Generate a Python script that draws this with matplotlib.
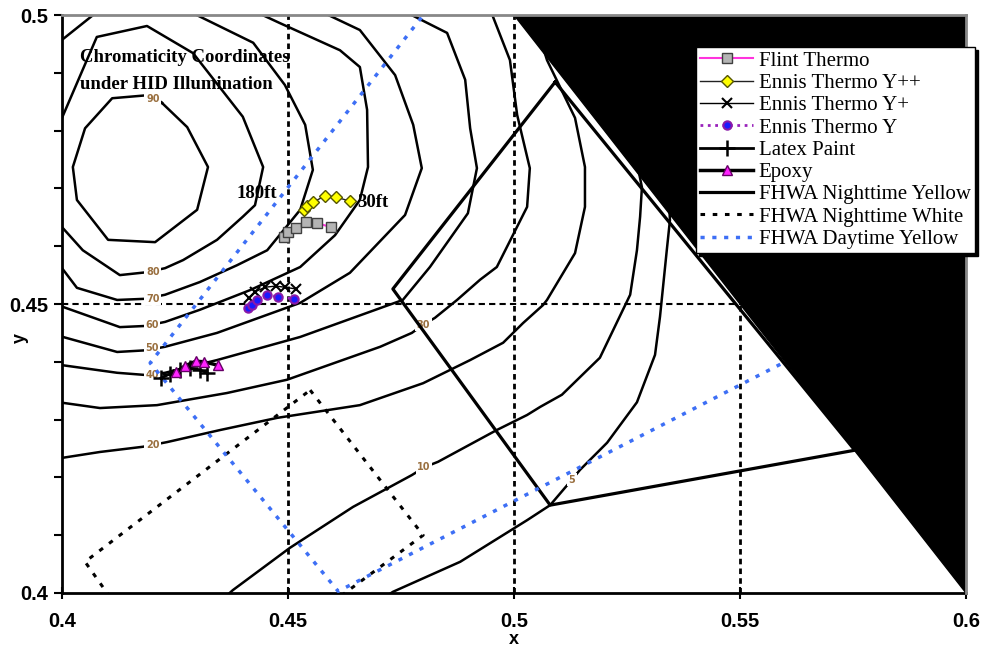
import matplotlib
matplotlib.use("Agg")
import matplotlib.pyplot as plt
import numpy as np

# ---- measured series (CIE x, y) ----
flint_x = [0.4491, 0.4500, 0.4518, 0.4540, 0.4564, 0.4595]
flint_y = [0.4616, 0.4625, 0.4631, 0.4642, 0.4640, 0.4633]

ennis_ypp_x = [0.4535, 0.4542, 0.4555, 0.4582, 0.4606, 0.4637]
ennis_ypp_y = [0.4663, 0.4670, 0.4676, 0.4687, 0.4685, 0.4678]

ennis_yp_x = [0.4414, 0.4427, 0.4449, 0.4473, 0.4493, 0.4518]
ennis_yp_y = [0.4510, 0.4521, 0.4529, 0.4531, 0.4529, 0.4526]

ennis_y_x = [0.4412, 0.4420, 0.4431, 0.4454, 0.4478, 0.4513]
ennis_y_y = [0.4493, 0.4498, 0.4507, 0.4516, 0.4512, 0.4509]

latex_x = [0.4219, 0.4239, 0.4261, 0.4283, 0.4305, 0.4321]
latex_y = [0.4372, 0.4379, 0.4386, 0.4389, 0.4386, 0.4381]

epoxy_x = [0.4252, 0.4272, 0.4296, 0.4314, 0.4345]
epoxy_y = [0.4382, 0.4393, 0.4401, 0.4400, 0.4394]

# ---- FHWA colour boxes ----
night_yellow = [(0.5091, 0.4884), (0.4732, 0.4526), (0.5080, 0.4152), (0.5754, 0.4247), (0.5091, 0.4884)]
night_white = [(0.4549, 0.4351), (0.4799, 0.4100), (0.4280, 0.3800), (0.4051, 0.4054), (0.4549, 0.4351)]
day_yellow = [(0.4900, 0.5100), (0.4195, 0.4398), (0.4611, 0.4003), (0.5600, 0.4400)]
locus = [(0.5, 0.5), (0.6, 0.4), (0.6, 0.5)]

# ---- iso-luminance contours ----
contour_90 = [(0.4221, 0.4848), (0.4277, 0.4806), (0.4323, 0.4737), (0.4299, 0.4663), (0.4206, 0.4607),
              (0.4102, 0.4611), (0.4033, 0.4680), (0.4024, 0.4737), (0.4051, 0.4804), (0.4111, 0.4856),
              (0.4201, 0.4862), (0.4221, 0.4848)]
contour_80 = [(0.4000, 0.4822), (0.4077, 0.4962), (0.4188, 0.4981), (0.4290, 0.4934), (0.4400, 0.4824),
              (0.4445, 0.4737), (0.4427, 0.4671), (0.4400, 0.4651), (0.4343, 0.4611), (0.4268, 0.4576),
              (0.4228, 0.4562), (0.4188, 0.4555), (0.4128, 0.4550), (0.4046, 0.4593), (0.4000, 0.4633)]
contour_70a = [(0.4000, 0.4957), (0.4069, 0.5000), (0.4084, 0.5010)]
contour_70 = [(0.4272, 0.5010), (0.4290, 0.5003), (0.4423, 0.4952), (0.4493, 0.4879), (0.4538, 0.4810),
              (0.4555, 0.4732), (0.4527, 0.4663), (0.4454, 0.4593), (0.4387, 0.4567), (0.4305, 0.4538),
              (0.4228, 0.4516), (0.4184, 0.4509), (0.4122, 0.4507), (0.4033, 0.4528), (0.4000, 0.4562)]
contour_60 = [(0.4416, 0.5010), (0.4482, 0.4986), (0.4615, 0.4939), (0.4659, 0.4910), (0.4675, 0.4836),
              (0.4677, 0.4737), (0.4659, 0.4680), (0.4604, 0.4619), (0.4527, 0.4564), (0.4416, 0.4524),
              (0.4305, 0.4490), (0.4228, 0.4469), (0.4184, 0.4462), (0.4128, 0.4460), (0.4002, 0.4495)]
contour_50 = [(0.4562, 0.5010), (0.4659, 0.4974), (0.4737, 0.4896), (0.4777, 0.4810),
              (0.4796, 0.4735), (0.4759, 0.4654), (0.4637, 0.4554), (0.4527, 0.4502), (0.4343, 0.4450),
              (0.4228, 0.4426), (0.4188, 0.4420), (0.4122, 0.4417), (0.4002, 0.4443)]
contour_40 = [(0.4748, 0.5010), (0.4852, 0.4969), (0.4892, 0.4888), (0.4903, 0.4804), (0.4918, 0.4735),
              (0.4898, 0.4657), (0.4814, 0.4564), (0.4754, 0.4507), (0.4527, 0.4443), (0.4343, 0.4403),
              (0.4228, 0.4381), (0.4188, 0.4377), (0.4122, 0.4381), (0.4002, 0.4394)]
contour_30 = [(0.4947, 0.5010), (0.4991, 0.4922), (0.5007, 0.4827), (0.5035, 0.4735),
              (0.5029, 0.4668), (0.4962, 0.4564), (0.4925, 0.4542), (0.4874, 0.4507), (0.4825, 0.4476),
              (0.4799, 0.4464), (0.4774, 0.4450), (0.4704, 0.4426), (0.4498, 0.4369), (0.4365, 0.4346),
              (0.4210, 0.4325), (0.4084, 0.4320), (0.4002, 0.4329)]
contour_20 = [(0.5035, 0.5017), (0.5073, 0.4922), (0.5135, 0.4822), (0.5157, 0.4737), (0.5157, 0.4668),
              (0.5135, 0.4588), (0.5073, 0.4507), (0.5064, 0.4498), (0.5020, 0.4467), (0.4976, 0.4433),
              (0.4903, 0.4403), (0.4799, 0.4363), (0.4659, 0.4325), (0.4476, 0.4303), (0.4350, 0.4282),
              (0.4232, 0.4261), (0.4179, 0.4253), (0.4084, 0.4244), (0.4002, 0.4234)]
contour_10 = [(0.5135, 0.5017), (0.5235, 0.4888), (0.5283, 0.4702), (0.5279, 0.4651), (0.5272, 0.4593),
              (0.5257, 0.4516), (0.5190, 0.4407), (0.5106, 0.4343), (0.5058, 0.4322), (0.5029, 0.4308),
              (0.4962, 0.4282), (0.4832, 0.4227), (0.4803, 0.4218), (0.4774, 0.4204), (0.4644, 0.4149),
              (0.4504, 0.4078), (0.4378, 0.4005), (0.4361, 0.3993)]
contour_5 = [(0.5257, 0.5017), (0.5334, 0.4818), (0.5345, 0.4645), (0.5338, 0.4593), (0.5323, 0.4478),
             (0.5312, 0.4412), (0.5272, 0.4330), (0.5206, 0.4260), (0.5146, 0.4213), (0.5128, 0.4196),
             (0.5080, 0.4152), (0.5029, 0.4126), (0.4881, 0.4054), (0.4732, 0.4002), (0.4715, 0.3993)]
contours = [contour_90, contour_80, contour_70a, contour_70, contour_60, contour_50,
            contour_40, contour_30, contour_20, contour_10, contour_5]

label_text = ["90", "80", "70", "60", "50", "40", "30", "20", "10", "5"]
label_x = [0.4201, 0.4201, 0.4201, 0.4199, 0.4199, 0.4201, 0.4799, 0.4201, 0.4801, 0.5128]
label_y = [0.4855, 0.4555, 0.4509, 0.4464, 0.4424, 0.4377, 0.4464, 0.4256, 0.4218, 0.4196]

serif = "Liberation Serif"
sans = "Liberation Sans"

fig = plt.figure(figsize=(9.86, 6.56), dpi=100)
ax = fig.add_axes([62 / 986, 1 - 593 / 656, 904 / 986, 578 / 656])

# contours
for c in contours:
    cx, cy = zip(*c)
    ax.plot(cx, cy, color="black", lw=1.8, zorder=2)
for t, lx, ly in zip(label_text, label_x, label_y):
    ax.text(lx, ly, t, fontsize=7, fontweight="bold", color="#9a7040", ha="center", va="center",
            zorder=3, bbox=dict(facecolor="white", edgecolor="none", pad=1.2))

# grid at major ticks
for gx in [0.45, 0.5, 0.55]:
    ax.axvline(gx, color="black", lw=2, ls=(0, (2, 1.5)), zorder=1)
ax.axhline(0.45, color="black", lw=1.5, ls=(0, (3, 2)), zorder=1)

# FHWA boxes
nyx, nyy = zip(*night_yellow)
ax.plot(nyx, nyy, color="black", lw=2.3, zorder=4, label="FHWA Nighttime Yellow")
nwx, nwy = zip(*night_white)
ax.plot(nwx, nwy, color="black", lw=2.2, ls=(0, (1.5, 2.5)), zorder=4, label="FHWA Nighttime White")
dyx, dyy = zip(*day_yellow)
ax.plot(dyx, dyy, color="#3d6ff5", lw=2.5, ls=(0, (1.2, 2.2)), zorder=4, label="FHWA Daytime Yellow")

# region outside spectrum locus
ax.fill([p[0] for p in locus], [p[1] for p in locus], color="black", zorder=5)

# data series
ax.plot(flint_x, flint_y, color="#ff33dd", lw=1.5, marker="s", ms=7,
        mfc="#b4b4b4", mec="#404040", zorder=6, label="Flint Thermo")
ax.plot(ennis_ypp_x, ennis_ypp_y, color="#222222", lw=1, marker="D", ms=6,
        mfc="#ffff00", mec="#555500", zorder=6, label="Ennis Thermo Y++")
ax.plot(ennis_yp_x, ennis_yp_y, color="black", lw=1, marker="x", ms=7, mew=1.5,
        zorder=6, label="Ennis Thermo Y+")
ax.plot(ennis_y_x, ennis_y_y, color="#9922bb", lw=2, ls=":", marker="o", ms=6,
        mfc="#1a1aff", mec="#8a1aa8", mew=1.5, zorder=6, label="Ennis Thermo Y")
ax.plot(latex_x, latex_y, color="black", lw=2, marker="+", ms=11, mew=1.8,
        zorder=6, label="Latex Paint")
ax.plot(epoxy_x, epoxy_y, color="black", lw=2.5, marker="^", ms=7,
        mfc="#ff22ff", mec="#660066", zorder=7, label="Epoxy")

# annotations
ax.text(0.4040, 0.4926, "Chromaticity Coordinates", family=serif, fontweight="bold",
        fontsize=13.5, ha="left", va="center", zorder=8)
ax.text(0.4040, 0.4880, "under HID Illumination", family=serif, fontweight="bold",
        fontsize=13.5, ha="left", va="center", zorder=8)
ax.text(0.4431, 0.4692, "180ft", family=serif, fontweight="bold", fontsize=13.5,
        ha="center", va="center", zorder=8)
ax.text(0.4688, 0.4675, "30ft", family=serif, fontweight="bold", fontsize=13.5,
        ha="center", va="center", zorder=8)

# axes
ax.set_xlim(0.4, 0.6)
ax.set_ylim(0.4, 0.5)
ax.set_xticks([0.4, 0.45, 0.5, 0.55, 0.6])
ax.set_xticklabels(["0.4", "0.45", "0.5", "0.55", "0.6"])
ax.set_yticks([0.4, 0.45, 0.5])
ax.set_yticklabels(["0.4", "0.45", "0.5"])
ax.set_yticks(np.arange(0.4, 0.5001, 0.01), minor=True)
ax.tick_params(axis="x", direction="inout", length=9, width=1.5, pad=9)
ax.tick_params(axis="y", which="both", direction="out", length=6, width=1.5, pad=4)
for lab in ax.get_xticklabels() + ax.get_yticklabels():
    lab.set_family(sans)
    lab.set_fontweight("bold")
    lab.set_fontsize(14.5)
for s in ["left", "bottom"]:
    ax.spines[s].set_linewidth(2)
for s in ["top", "right"]:
    ax.spines[s].set_color("#888888")
    ax.spines[s].set_linewidth(2)
    ax.spines[s].set_zorder(9)
ax.set_xlabel("x", family=sans, fontweight="bold", fontsize=13)
ax.set_ylabel("y", family=sans, fontweight="bold", fontsize=13)
ax.xaxis.set_label_coords(0.5, -0.081)
ax.xaxis.label.set_va("center")
ax.yaxis.set_label_coords(-0.0465, 0.441)
ax.yaxis.label.set_va("center")

handles, labels = ax.get_legend_handles_labels()
order = ["Flint Thermo", "Ennis Thermo Y++", "Ennis Thermo Y+", "Ennis Thermo Y",
         "Latex Paint", "Epoxy", "FHWA Nighttime Yellow", "FHWA Nighttime White", "FHWA Daytime Yellow"]
hmap = dict(zip(labels, handles))
leg = ax.legend([hmap[k] for k in order], order, loc="upper right",
                bbox_to_anchor=(975 / 986, 1 - 47 / 656), bbox_transform=fig.transFigure,
                borderaxespad=0, fancybox=False, shadow={"color": "black", "alpha": 1},
                prop={"family": serif, "size": 15}, handlelength=2.5, handletextpad=0.3,
                labelspacing=0.13, borderpad=0.2, framealpha=1, edgecolor="black")
leg.set_zorder(20)
leg.get_frame().set_linewidth(1)

fig.savefig("out.png", dpi=100)
